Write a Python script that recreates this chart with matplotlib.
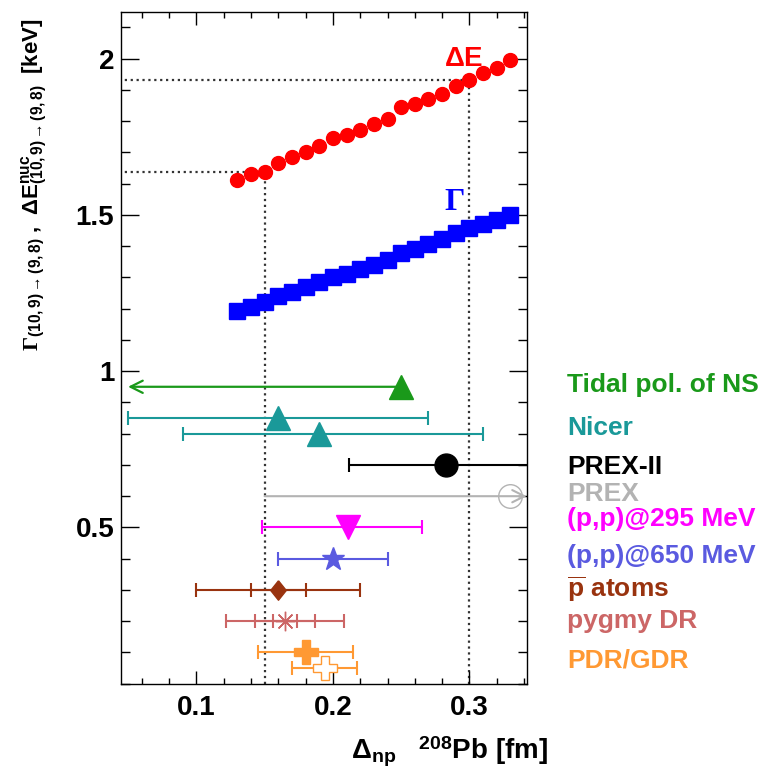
import numpy as np
import matplotlib as mpl
mpl.use('Agg')
import matplotlib.pyplot as plt
from matplotlib.ticker import FixedLocator, MultipleLocator, FuncFormatter

mpl.rcParams['font.family'] = ['Liberation Sans', 'DejaVu Sans']
mpl.rcParams['font.weight'] = 'bold'
mpl.rcParams['mathtext.fontset'] = 'custom'
mpl.rcParams['mathtext.rm'] = 'Liberation Serif'
mpl.rcParams['mathtext.it'] = 'Liberation Serif:italic'
mpl.rcParams['mathtext.bf'] = 'Liberation Sans:bold'
mpl.rcParams['mathtext.sf'] = 'Liberation Sans'

# Розрахунок: ширина та зсув рівня в залежності від товщини нейтронної шуби
dnp = [0.13, 0.14, 0.15, 0.16, 0.17, 0.18, 0.19, 0.20, 0.21, 0.22, 0.23,
       0.24, 0.25, 0.26, 0.27, 0.28, 0.29, 0.30, 0.31, 0.32, 0.33]
dE = [1.612, 1.630, 1.638, 1.665, 1.684, 1.702, 1.721, 1.745, 1.755, 1.773,
      1.790, 1.808, 1.844, 1.854, 1.872, 1.888, 1.912, 1.931, 1.954, 1.971,
      1.995]
gamma = [1.191, 1.205, 1.220, 1.239, 1.252, 1.269, 1.284, 1.301, 1.312, 1.327,
         1.340, 1.356, 1.378, 1.390, 1.407, 1.422, 1.441, 1.457, 1.471, 1.482,
         1.500]

# Межі, відмічені пунктиром
dnp_marks = [0.15, 0.30]

# Експериментальні дані
tidal_x, tidal_lim, tidal_y = 0.25, 0.05, 0.95
nicer_x = [0.16, 0.19]
nicer_lo = [0.05, 0.09]
nicer_hi = [0.27, 0.31]
nicer_y = [0.85, 0.80]
prex2_x, prex2_err, prex2_y = 0.283, 0.071, 0.70
prex_x, prex_lo, prex_y = 0.33, 0.15, 0.60
pp295_x, pp295_lo, pp295_hi, pp295_y = 0.211, 0.063, 0.054, 0.50
pp650_x, pp650_err, pp650_y = 0.20, 0.04, 0.40
pbar_x, pbar_err, pbar_y = 0.16, [0.02, 0.06], 0.30
pygmy_x, pygmy_err, pygmy_y = 0.165, [0.009, 0.022, 0.043], 0.20
pdr_x = [0.18, 0.194]
pdr_err = [0.035, 0.024]
pdr_y = [0.10, 0.05]

labels = ['Tidal pol. of NS', 'Nicer', 'PREX-II', 'PREX', '(p,p)@295 MeV',
          '(p,p)@650 MeV', r'$\overline{\mathbf{p}}$ atoms', 'pygmy DR',
          'PDR/GDR']
label_y = [0.957, 0.817, 0.693, 0.608, 0.527, 0.409, 0.303, 0.202, 0.074]
label_col = ['#1a991a', '#1a9999', 'black', '#b3b3b3', '#ff00ff', '#5a5ae0',
             '#99330f', '#cc6666', '#ff9933']

fig = plt.figure(figsize=(7.77, 7.77), dpi=100)
ax = fig.add_axes([0.156, 0.12, 0.522, 0.865])

# Пунктирні лінії до ΔE при Δnp = 0.15 та 0.30
for xm in dnp_marks:
    ym = np.interp(xm, dnp, dE)
    ax.plot([0.0, xm], [ym, ym], ls=':', color='#333333', lw=1.6, zorder=1)
    ax.plot([xm, xm], [0.0, ym], ls=':', color='#333333', lw=1.6, zorder=1)

ax.plot(dnp, dE, 'o', color='red', ms=10, mec='red', zorder=3)
ax.plot(dnp, gamma, 's', color='blue', ms=11, mec='blue', zorder=3)
ax.text(0.296, 2.0, r'$\mathsf{\Delta}$E', color='red', fontsize=20,
        fontweight='bold', ha='center', va='center')
ax.text(0.289, 1.54, r'$\Gamma$', color='blue', fontsize=23,
        fontweight='normal', ha='center', va='center')

ebkw = dict(lw=1.5, capsize=5, capthick=1.5, ls='none')

# Tidal pol. of NS - верхня межа
c = label_col[0]
ax.annotate('', xy=(tidal_lim, tidal_y), xytext=(tidal_x, tidal_y),
            arrowprops=dict(arrowstyle='->', color=c, lw=1.6,
                            mutation_scale=22, shrinkA=0, shrinkB=0))
ax.plot(tidal_x, tidal_y, '^', color=c, ms=17, zorder=4)

# Nicer
c = label_col[1]
for x, lo, hi, y in zip(nicer_x, nicer_lo, nicer_hi, nicer_y):
    ax.errorbar(x, y, xerr=[[x - lo], [hi - x]], color=c, **ebkw)
    ax.plot(x, y, '^', color=c, ms=17, zorder=4)

# PREX-II
ax.errorbar(prex2_x, prex2_y, xerr=prex2_err, color='black', **ebkw)
ax.plot(prex2_x, prex2_y, 'o', color='black', ms=16.5, zorder=4)

# PREX
c = label_col[3]
ax.annotate('', xy=(0.342, prex_y), xytext=(prex_lo, prex_y),
            arrowprops=dict(arrowstyle='->', color=c, lw=1.5,
                            mutation_scale=22, shrinkA=0, shrinkB=0))
ax.plot(prex_x, prex_y, 'o', mfc='none', mec=c, mew=1.0, ms=17, zorder=4)

# (p,p)@295 MeV
c = label_col[4]
ax.errorbar(pp295_x, pp295_y, xerr=[[pp295_lo], [pp295_hi]], color=c, **ebkw)
ax.plot(pp295_x, pp295_y, 'v', color=c, ms=17, zorder=4)

# (p,p)@650 MeV
c = label_col[5]
ax.errorbar(pp650_x, pp650_y, xerr=pp650_err, color=c, **ebkw)
ax.plot(pp650_x, pp650_y, '*', color=c, ms=17, zorder=4)

# антипротонні атоми
c = label_col[6]
for e in pbar_err:
    ax.errorbar(pbar_x, pbar_y, xerr=e, color=c, **ebkw)
diamond = [(0, 1), (0.8, 0), (0, -1), (-0.8, 0), (0, 1)]
ax.plot(pbar_x, pbar_y, marker=diamond, color=c, ms=14, ls='none', zorder=4)

# pygmy DR
c = label_col[7]
for e in pygmy_err:
    ax.errorbar(pygmy_x, pygmy_y, xerr=e, color=c, **ebkw)
ax.plot(pygmy_x, pygmy_y, marker=(8, 2, 0), color=c, ms=14, mew=1.0,
        ls='none', zorder=4)

# PDR/GDR
c = label_col[8]
for x, e, y, fill in zip(pdr_x, pdr_err, pdr_y, [c, 'white']):
    ax.errorbar(x, y, xerr=e, color=c, **ebkw)
    ax.plot(x, y, 'P', mfc=fill, mec=c, mew=1.0, ms=17, zorder=4)

# Підписи праворуч від графіка
for txt, y, c in zip(labels, label_y, label_col):
    ax.text(1.10, y, txt, color=c, fontsize=19, fontweight='bold',
            va='center', ha='left', transform=ax.get_yaxis_transform())

ax.set_xlim(0.045, 0.342)
ax.set_ylim(0.0, 2.15)
ax.xaxis.set_major_locator(FixedLocator([0.1, 0.2, 0.3]))
ax.xaxis.set_minor_locator(MultipleLocator(0.02))
ax.yaxis.set_major_locator(FixedLocator([0.5, 1.0, 1.5, 2.0]))
ax.yaxis.set_minor_locator(MultipleLocator(0.1))
ax.yaxis.set_major_formatter(FuncFormatter(lambda v, p: '%g' % v))
ax.tick_params(which='both', direction='in', top=True, right=True,
               labelsize=20, width=1.0)
ax.tick_params(axis='x', which='major', length=9.5, pad=8)
ax.tick_params(axis='x', which='minor', length=4.5)
ax.tick_params(axis='y', which='major', length=13, pad=5)
ax.tick_params(axis='y', which='minor', length=6.5)
for lab in ax.get_xticklabels() + ax.get_yticklabels():
    lab.set_fontweight('bold')
for sp in ax.spines.values():
    sp.set_linewidth(1.0)

ax.set_xlabel(r'$\mathsf{\Delta}_{\mathbf{np}}$   $^{\mathbf{208}}$Pb [fm]',
              fontsize=20, fontweight='bold', loc='right')
ax.xaxis.set_label_coords(1.052, -0.076)
ax.set_ylabel(r'$\Gamma_{\mathbf{(10,9)\rightarrow(9,8)}}\ \mathbf{,}\ \ '
              r'\mathsf{\Delta}\mathbf{E}^{\mathbf{nuc}}_{\mathbf{(10,9)\rightarrow(9,8)}}'
              r'\ \ \mathbf{[keV]}$',
              fontsize=16, fontweight='normal', loc='top')
ax.yaxis.set_label_coords(-0.175, 0.99)

fig.savefig('out.png', dpi=100)
